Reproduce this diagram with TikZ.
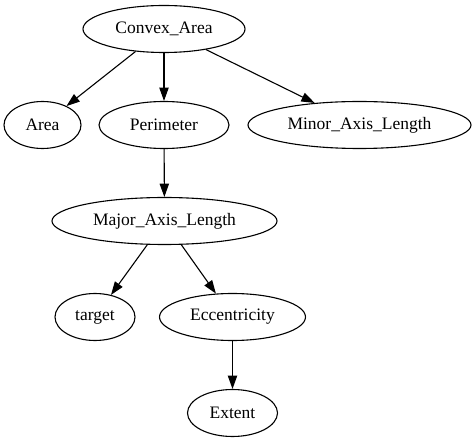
\documentclass[tikz,border=0pt]{standalone}
\usepackage{fontspec}
\setmainfont{Liberation Serif}
\usetikzlibrary{shapes.geometric,arrows.meta}
\begin{document}
\begin{tikzpicture}[x=1pt,y=-1pt,
  nd/.style={draw,ellipse,inner sep=0pt,line width=1.1pt,minimum height=47pt,font=\fontsize{17.5}{20}\selectfont},
  arr/.style={-{Triangle[width=9.3pt,length=13.3pt]},line width=1.1pt}]
\useasboundingbox (0,0) rectangle (476,443);
\node[nd,minimum width=162pt] (ca) at (164,29) {Convex\_Area};
\node[nd,minimum width=77pt] (ar) at (42.5,125) {Area};
\node[nd,minimum width=130pt] (pe) at (164,125) {Perimeter};
\node[nd,minimum width=223pt] (mi) at (359.5,125) {Minor\_Axis\_Length};
\node[nd,minimum width=225pt] (ma) at (164.5,221) {Major\_Axis\_Length};
\node[nd,minimum width=80pt] (ta) at (95,317) {target};
\node[nd,minimum width=146pt] (ec) at (232.5,317) {Eccentricity};
\node[nd,minimum width=90pt] (ex) at (232.5,413) {Extent};
\draw[arr] (ca) -- (ar);
\draw[arr] (ca) -- (pe);
\draw[arr] (ca) -- (mi);
\draw[arr] (pe) -- (ma);
\draw[arr] (ma) -- (ta);
\draw[arr] (ma) -- (ec);
\draw[arr] (ec) -- (ex);
\end{tikzpicture}
\end{document}
